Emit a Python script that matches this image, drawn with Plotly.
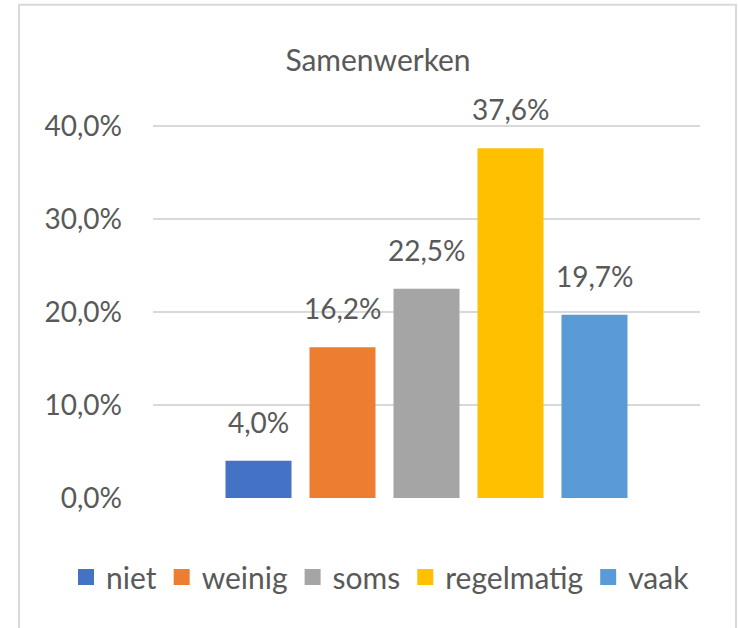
import plotly.graph_objects as go

categories = ["niet", "weinig", "soms", "regelmatig", "vaak"]
values = [4.0, 16.2, 22.5, 37.6, 19.7]
colors = ["#4472C4", "#ED7D31", "#A5A5A5", "#FFC000", "#5B9BD5"]
y_ticks = [0, 10, 20, 30, 40]
y_tick_labels = ["0,0%", "10,0%", "20,0%", "30,0%", "40,0%"]
title_text = "Samenwerken"

FONT = "Lato, 'Open Sans', sans-serif"
GREY = "#595959"

# plot area in pixels: x 153..700, y (top) .. 498 ; 40% line at y=126
YMAX = 40.2
PL, PR, PB = 153, 700, 498
PT = PB - (PB - 126) * YMAX / 40
PW, PH = PR - PL, PB - PT

fig = go.Figure()
for cat, val, col in zip(categories, values, colors):
    fig.add_trace(go.Bar(x=[cat], y=[val], name=cat, marker=dict(color=col, line=dict(width=0)),
                         width=0.786, showlegend=False))
    fig.add_trace(go.Scatter(x=[None], y=[None], mode="markers", name=cat,
                             marker=dict(symbol="square", size=18, color=col), showlegend=True))

annotations = []
for cat, val in zip(categories, values):
    annotations.append(dict(x=cat, y=val, xref="x", yref="y",
                            text=f"{val:.1f}".replace(".", ",") + "%",
                            showarrow=False, yanchor="bottom", yshift=20,
                            font=dict(family=FONT, size=28, color=GREY)))

fig.update_layout(
    width=738, height=628,
    margin=dict(l=PL, r=738 - PR, t=PT, b=628 - PB, autoexpand=False),
    paper_bgcolor="white", plot_bgcolor="white",
    barmode="overlay",
    font=dict(family=FONT, color=GREY, size=28),
    title=dict(text=title_text, x=378/738, xref="container", xanchor="center",
               y=1-60/628, yref="container", yanchor="middle",
               font=dict(family=FONT, size=30, color=GREY)),
    xaxis=dict(type="category", categoryorder="array", categoryarray=categories,
               range=[-1.256, 5.256], showticklabels=False, showgrid=False,
               zeroline=False, showline=False, fixedrange=True),
    yaxis=dict(range=[0, YMAX], tickvals=y_ticks, ticktext=y_tick_labels,
               showgrid=True, gridcolor="#D9D9D9", gridwidth=2, zeroline=False,
               showline=False, ticklabelstandoff=30, fixedrange=True,
               tickfont=dict(family=FONT, size=28, color=GREY)),
    legend=dict(orientation="h", xref="paper", yref="paper",
                x=(66 - PL)/PW, xanchor="left", y=(PB - 577)/PH, yanchor="middle",
                font=dict(family=FONT, size=30, color=GREY), itemwidth=30,
                bgcolor="rgba(0,0,0,0)"),
    annotations=annotations,
    shapes=[dict(type="rect", xref="paper", yref="paper",
                 x0=(19 - PL)/PW, x1=(736 - PL)/PW, y0=(PB - 660)/PH, y1=(PB - 5)/PH,
                 line=dict(color="#D9D9D9", width=2), layer="below")],
)

fig.write_html("out.html", config={"displayModeBar": False},
               post_script="document.body.style.margin='0';document.body.style.overflow='hidden';")
